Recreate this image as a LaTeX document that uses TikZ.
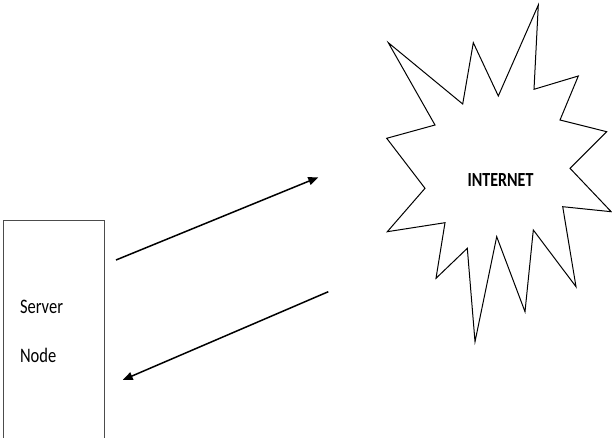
\documentclass[tikz,border=0pt]{standalone}
\usepackage{fontspec}
\setmainfont{Carlito}
\usepackage{tikz}
\usetikzlibrary{arrows.meta, positioning}
\newcommand{\tallText}[1]{\scalebox{1}[1.25]{#1}}

\begin{document}
\begin{tikzpicture}[
    x=1pt, y=1pt,
    serverbox/.style={draw=black!70, line width=0.9pt, rectangle, minimum width=100.7pt, minimum height=222pt, inner xsep=16.7pt, text width=67.3pt, align=left, font=\fontsize{16.5}{19}\selectfont},
    burst/.style={draw=black, line width=1pt, line join=miter},
    cloudlabel/.style={font=\fontsize{16}{19}\selectfont\bfseries},
    arrow/.style={-{Triangle[length=10pt,width=8pt]}, line width=1.5pt, draw=black}
]
    \useasboundingbox (0,0) rectangle (612,437);

    % Server
    \node[serverbox] (server) at (53.7,106) {\tallText{Server}\\[30pt]\tallText{Node}};

    % Internet
    \draw[burst] (388.3,394.3) -- (435,312) -- (386.7,298.7) -- (425,248.7)
        -- (387.3,205.3) -- (445,214.3) -- (436,158.7) -- (467.3,188.7)
        -- (475,95.3) -- (496.7,200.3) -- (525,125.3) -- (533.3,207)
        -- (576,150.3) -- (562.7,230.3) -- (611.2,225.3) -- (570,268.7)
        -- (606.7,305.3) -- (560,317) -- (578.3,361) -- (534,347.7)
        -- (538.3,432) -- (498.3,341) -- (473.3,394.3) -- (462.7,333) -- cycle;
    \node[cloudlabel] (internet) at (500.5,257) {\tallText{INTERNET}};

    % Links
    \coordinate (up_start) at (116,177);
    \coordinate (up_end) at (318.3,259.7);
    \coordinate (down_start) at (328.3,145.3);
    \coordinate (down_end) at (122.7,57);
    \draw[arrow] (up_start) -- (up_end);
    \draw[arrow] (down_start) -- (down_end);
\end{tikzpicture}
\end{document}
